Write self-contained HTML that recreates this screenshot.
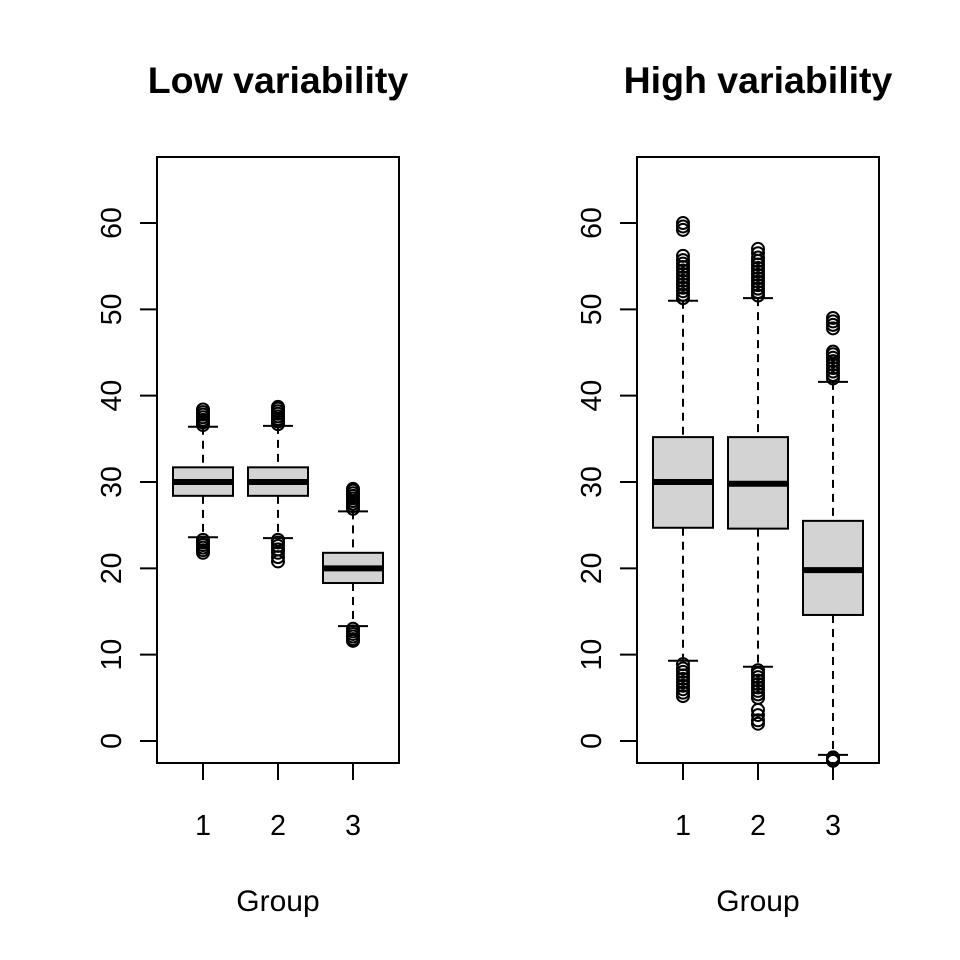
<!DOCTYPE html>
<html><head><meta charset="utf-8"><style>
body{margin:0;background:#fff}
svg{display:block;font-family:"Liberation Sans",Arial,sans-serif}
</style></head><body>
<svg id="chart" width="960" height="960" xmlns="http://www.w3.org/2000/svg"></svg>
<script>
const panelTitles = ["Low variability", "High variability"];
const groups = ["1", "2", "3"];
const yTicks = [0, 10, 20, 30, 40, 50, 60];
// per panel, per group: [lowerWhisker, q1, median, q3, upperWhisker]
const lowStats = [[23.6, 28.4, 30.0, 31.7, 36.4], [23.5, 28.4, 30.0, 31.7, 36.5], [13.3, 18.3, 20.0, 21.8, 26.6]];
const highStats = [[9.3, 24.7, 30.0, 35.2, 51.0], [8.6, 24.6, 29.8, 35.2, 51.3], [-1.6, 14.6, 19.8, 25.5, 41.6]];
const lowOutliers = [
  [36.6, 36.9, 37.2, 37.5, 37.8, 38.1, 38.4, 23.3, 23.0, 22.7, 22.4, 22.1, 21.8],
  [36.7, 37.0, 37.3, 37.6, 37.9, 38.2, 38.5, 38.7, 23.3, 23.0, 22.6, 22.2, 21.8, 21.3, 20.8],
  [26.9, 27.2, 27.5, 27.8, 28.1, 28.4, 28.7, 29.0, 29.2, 13.0, 12.7, 12.4, 12.1, 11.8, 11.6]
];
const highOutliers = [
  [51.3, 51.7, 52.1, 52.5, 52.9, 53.3, 53.7, 54.1, 54.5, 54.9, 55.3, 55.7, 56.2, 59.2, 59.6, 60.0, 8.9, 8.4, 8.0, 7.6, 7.2, 6.8, 6.4, 6.0, 5.6, 5.2],
  [51.6, 52.0, 52.4, 52.8, 53.2, 53.6, 54.0, 54.4, 54.8, 55.2, 55.6, 56.0, 56.5, 57.0, 8.2, 7.8, 7.4, 7.0, 6.6, 6.2, 5.8, 5.4, 5.0, 3.6, 3.0, 2.4, 2.0],
  [42.0, 42.4, 42.8, 43.2, 43.6, 44.0, 44.4, 44.8, 45.1, 47.8, 48.2, 48.6, 49.0, -1.9, -2.1, -2.3]
];

const NS = "http://www.w3.org/2000/svg";
const svg = document.getElementById("chart");
function mk(tag, attrs, parent) {
  const e = document.createElementNS(NS, tag);
  for (const k in attrs) e.setAttribute(k, attrs[k]);
  (parent || svg).appendChild(e);
  return e;
}
const yTop = 157, yBot = 763;
function yScale(v) { return 741 - v * 8.633; }

const panels = [
  {left: 157, right: 399, stats: lowStats, out: lowOutliers},
  {left: 637, right: 879, stats: highStats, out: highOutliers}
];
panels.forEach((p, pi) => {
  const g = mk("g", {});
  
  
  const cx0 = p.left + 46;
  function xScale(i) { return cx0 + i * 75; }
  const t = mk("text", {x: (p.left + p.right) / 2, y: 93, "text-anchor": "middle", "font-size": 37.5, "font-weight": "bold"}, g);
  t.textContent = panelTitles[pi];
  
  
  const fr = mk("rect", {x: p.left, y: yTop, width: p.right - p.left, height: yBot - yTop, fill: "none", stroke: "#000", "stroke-width": 2}, g);
  
  
  yTicks.forEach(v => {
    const y = yScale(v);
    const tk = mk("line", {x1: p.left, x2: p.left - 17, y1: y, y2: y, stroke: "#000", "stroke-width": 2}, g);
    
    
    const lb = mk("text", {x: 0, y: 0, transform: `translate(${p.left - 36},${y}) rotate(-90)`, "text-anchor": "middle", "font-size": 28.5}, g);
    lb.textContent = v;
    
    
  });
  groups.forEach((gname, i) => {
    const x = xScale(i);
    const tk = mk("line", {x1: x, x2: x, y1: yBot, y2: yBot + 17, stroke: "#000", "stroke-width": 2}, g);
    
    
    const lb = mk("text", {x: x, y: 835, "text-anchor": "middle", "font-size": 28.5}, g);
    lb.textContent = gname;
    
    
    const s = p.stats[i];
    const bg = mk("g", {}, g);
    
    
    mk("line", {x1: x, x2: x, y1: yScale(s[4]), y2: yScale(s[3]), stroke: "#000", "stroke-width": 2, "stroke-dasharray": "8,6"}, bg);
    mk("line", {x1: x, x2: x, y1: yScale(s[1]), y2: yScale(s[0]), stroke: "#000", "stroke-width": 2, "stroke-dasharray": "8,6"}, bg);
    mk("line", {x1: x - 15, x2: x + 15, y1: yScale(s[4]), y2: yScale(s[4]), stroke: "#000", "stroke-width": 2}, bg);
    mk("line", {x1: x - 15, x2: x + 15, y1: yScale(s[0]), y2: yScale(s[0]), stroke: "#000", "stroke-width": 2}, bg);
    const box = mk("rect", {x: x - 30, y: yScale(s[3]), width: 60, height: yScale(s[1]) - yScale(s[3]), fill: "#d3d3d3", stroke: "#000", "stroke-width": 2}, bg);
    
    
    const med = mk("line", {x1: x - 30, x2: x + 30, y1: yScale(s[2]), y2: yScale(s[2]), stroke: "#000", "stroke-width": 6}, bg);
    
    
    p.out[i].forEach(v => {
      const c = mk("circle", {cx: x, cy: yScale(v), r: 6, fill: "none", stroke: "#000", "stroke-width": 2}, bg);
      
      
    });
  });
  const xt = mk("text", {x: (p.left + p.right) / 2, y: 911, "text-anchor": "middle", "font-size": 30}, g);
  xt.textContent = "Group";
  
  
});
</script>
</body></html>
